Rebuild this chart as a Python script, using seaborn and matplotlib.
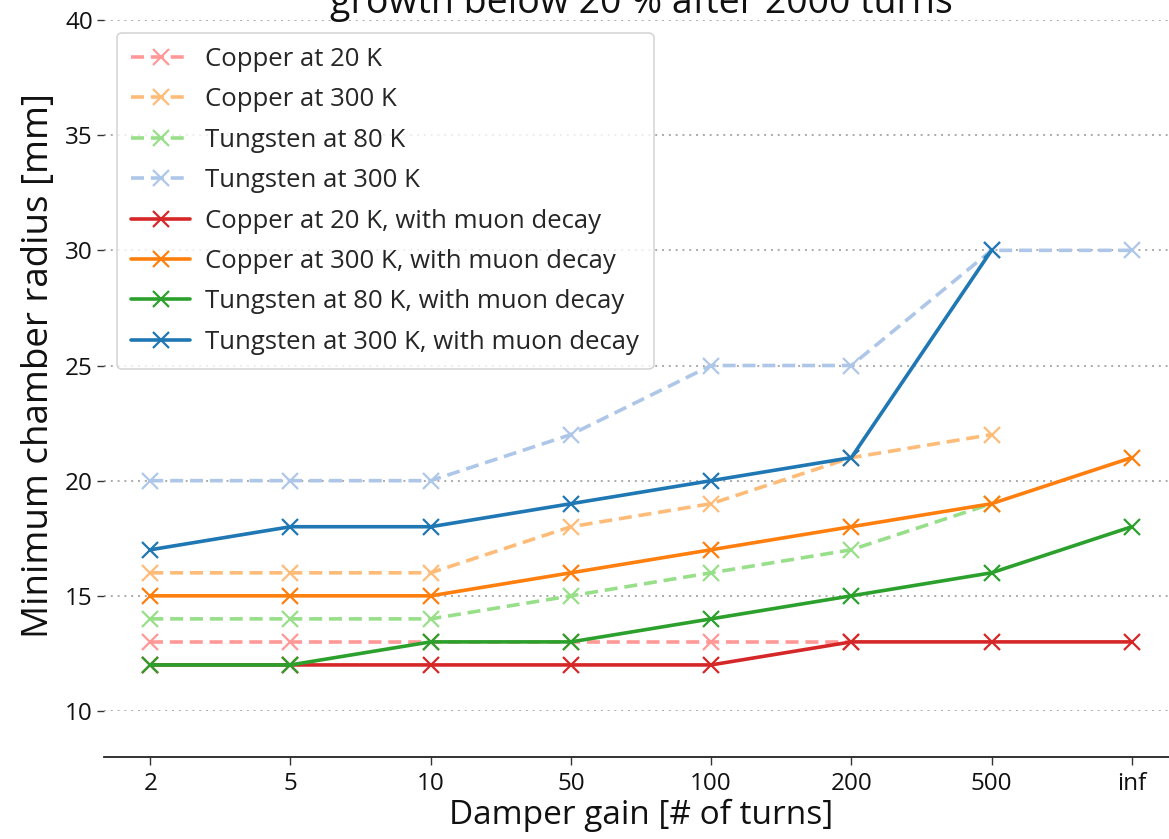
import numpy as np
import pandas as pd
import matplotlib
matplotlib.use("Agg")
import matplotlib.pyplot as plt
import seaborn as sns

gains = ["2", "5", "10", "50", "100", "200", "500", "inf"]
nan = np.nan

copper_20 = [13, 13, 13, 13, 13, 13, nan, nan]
copper_300 = [16, 16, 16, 18, 19, 21, 22, nan]
tungsten_80 = [14, 14, 14, 15, 16, 17, 19, nan]
tungsten_300 = [20, 20, 20, 22, 25, 25, 30, 30]
copper_20_mu = [12, 12, 12, 12, 12, 13, 13, 13]
copper_300_mu = [15, 15, 15, 16, 17, 18, 19, 21]
tungsten_80_mu = [12, 12, 13, 13, 14, 15, 16, 18]
tungsten_300_mu = [17, 18, 18, 19, 20, 21, 30, nan]

series = [
    ("Copper at 20 K", copper_20, "#ff9896", "--"),
    ("Copper at 300 K", copper_300, "#ffbb78", "--"),
    ("Tungsten at 80 K", tungsten_80, "#98df8a", "--"),
    ("Tungsten at 300 K", tungsten_300, "#aec7e8", "--"),
    ("Copper at 20 K, with muon decay", copper_20_mu, "#d62728", "-"),
    ("Copper at 300 K, with muon decay", copper_300_mu, "#ff7f0e", "-"),
    ("Tungsten at 80 K, with muon decay", tungsten_80_mu, "#2ca02c", "-"),
    ("Tungsten at 300 K, with muon decay", tungsten_300_mu, "#1f77b4", "-"),
]

sns.set_theme(style="white")
plt.rcParams["font.family"] = ["Open Sans", "DejaVu Sans"]

fig = plt.figure(figsize=(11.69, 8.39), dpi=100)
ax = fig.add_axes([104 / 1169, 1 - 711 / 839, 1074 / 1169, 691 / 839])

pos = np.arange(len(gains))
for label, vals, color, ls in series:
    df = pd.DataFrame({"x": pos, "y": vals})
    sns.lineplot(data=df, x="x", y="y", ax=ax, color=color, linewidth=2.6,
                 label=label, legend=False)
    line = ax.lines[-1]
    line.set_linestyle(ls)
    if ls == "--":
        line.set_dashes((3.6, 1.9))
    line.set_marker("x")
    line.set_markersize(11)
    line.set_markeredgewidth(1.6)
    line.set_markeredgecolor(color)
    line.set_markerfacecolor(color)

ax.set_xlim(-0.33, 7.33)
ax.set_ylim(10, 40)
ax.set_xticks(pos)
ax.set_xticklabels(gains)
ax.set_yticks([10, 15, 20, 25, 30, 35, 40])

ax.yaxis.grid(True, linestyle=(0, (1, 2.5)), color="#aaaaaa", linewidth=1.4)
ax.xaxis.grid(False)
for s in ["top", "right", "left"]:
    ax.spines[s].set_visible(False)
ax.spines["bottom"].set_position(("outward", 33))
ax.spines["bottom"].set_color("#222222")
ax.spines["bottom"].set_linewidth(1.3)

ax.tick_params(axis="y", left=True, length=5, width=1, color="#333333",
               pad=3, labelsize=17.5, labelcolor="#111111")
ax.tick_params(axis="x", bottom=True, length=6, width=1, color="#333333",
               pad=5, labelsize=17.5, labelcolor="#111111")

ax.set_xlabel("Damper gain [# of turns]", fontsize=24, labelpad=2, color="#111111")
ax.set_ylabel("Minimum chamber radius [mm]", fontsize=26.5, labelpad=6, color="#111111")
ax.set_title("growth below 20 % after 2000 turns", fontsize=27, pad=5, color="#111111")

handles = ax.lines[:len(series)]
leg = ax.legend(handles=handles, labels=[s[0] for s in series],
                loc="upper left", fontsize=18.5, handlelength=2.3,
                handletextpad=0.6, labelspacing=0.6, borderpad=0.55,
                frameon=True, fancybox=True, framealpha=0.8,
                edgecolor="#cccccc", borderaxespad=0.5)
leg.get_frame().set_linewidth(1.2)

fig.savefig("out.png", dpi=100)
